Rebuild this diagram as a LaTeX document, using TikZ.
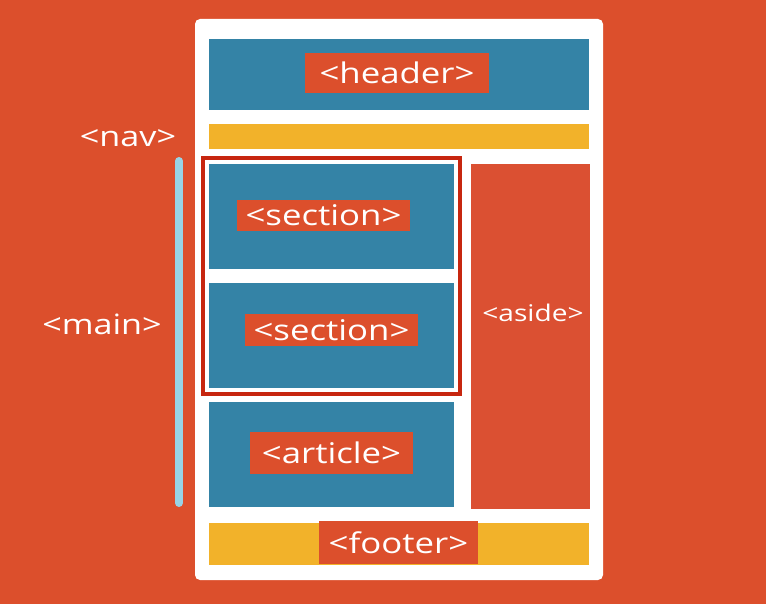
\documentclass[tikz,border=0pt]{standalone}
\usepackage{fontspec}
\setmainfont{Open Sans}[FakeStretch=1.22, Ligatures=NoCommon]
\definecolor{bg}{HTML}{DC4F2C}
\definecolor{tealb}{HTML}{3483A6}
\definecolor{gold}{HTML}{F2B22A}
\definecolor{darkred}{HTML}{C7260F}
\definecolor{lblue}{HTML}{98D4E6}
\definecolor{asidec}{HTML}{DB5032}
\begin{document}
\begin{tikzpicture}[x=1pt,y=-1pt,
  region/.style={inner sep=0pt, outer sep=0pt, draw=none},
  bluebox/.style={region, fill=tealb},
  goldbox/.style={region, fill=gold},
  lbl/.style={inner sep=0pt, outer sep=0pt, fill=bg, text=white, font=\fontsize{28.5}{30}\selectfont},
  sidetxt/.style={inner sep=0pt, text=white, font=\fontsize{28}{30}\selectfont}
]
\fill[bg] (0,0) rectangle (766,604);
\useasboundingbox (0,0) rectangle (766,604);
% card
\fill[white, rounded corners=5pt] (195,19) rectangle (603,580);
% regions
\node[bluebox, minimum width=380, minimum height=71] (header) at (399,74.5) {};
\node[goldbox, minimum width=380, minimum height=25] (nav) at (399,136.5) {};
\node[bluebox, minimum width=245, minimum height=105] (sec1) at (331.5,216.5) {};
\node[bluebox, minimum width=245, minimum height=105] (sec2) at (331.5,335.5) {};
\node[bluebox, minimum width=245, minimum height=105] (article) at (331.5,454.5) {};
\node[region, fill=asidec, minimum width=119, minimum height=345] (aside) at (530.5,336.5) {};
\node[goldbox, minimum width=380, minimum height=42] (footer) at (399,544) {};
\node[draw=darkred, line width=3.5pt, inner sep=0pt, minimum width=257, minimum height=236] (group) at (331.5,276) {};
% labels
\node[lbl, minimum width=184, minimum height=40] (headerl) at (397,73) {<header>};
\node[lbl, minimum width=173, minimum height=31] (sec1l) at (323.5,215.5) {<section>};
\node[lbl, minimum width=173, minimum height=32] (sec2l) at (331.5,330) {<section>};
\node[lbl, minimum width=163, minimum height=42] (articlel) at (331.5,453) {<article>};
\node[lbl, minimum width=159, minimum height=43] (footerl) at (398.5,542.5) {<footer>};
\node[sidetxt, font=\fontsize{23}{25}\selectfont] (asidel) at (533,313) {<aside>};
\node[sidetxt] (navl) at (128,138) {<nav>};
\node[sidetxt] (mainl) at (102,324) {<main>};
% main bar
\coordinate (mtop) at (179,161);
\coordinate (mbot) at (179,503);
\draw[lblue, line width=8pt, line cap=round] (mtop) -- (mbot);
\end{tikzpicture}
\end{document}
